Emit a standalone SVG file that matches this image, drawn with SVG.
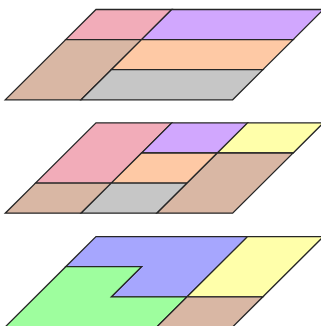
<svg xmlns="http://www.w3.org/2000/svg" width="321" height="326" viewBox="0 0 321 326">
<style>
polygon{stroke:#262626;stroke-width:1.3;stroke-linejoin:miter}
.pink{fill:#f2acb9}.purple{fill:#d1a7fe}.tan{fill:#d9b7a4}.orange{fill:#fec9a5}.gray{fill:#c6c6c6}.yellow{fill:#ffffaa}.blue{fill:#a6a6fe}.green{fill:#9efe9e}
</style>
<rect width="321" height="326" fill="#fff"/>
<g id="panel1">
<g id="p1-pink"><polygon class="pink" points="96,9.5 171.8,9.5 141.55,39.6 65.75,39.6"/></g>
<g id="p1-purple"><polygon class="purple" points="171.8,9.5 323.4,9.5 293.15,39.6 141.55,39.6"/></g>
<g id="p1-tan"><polygon class="tan" points="65.75,39.6 141.55,39.6 81.05,99.8 5.25,99.8"/></g>
<g id="p1-orange"><polygon class="orange" points="141.55,39.6 293.15,39.6 262.9,69.7 111.3,69.7"/></g>
<g id="p1-gray"><polygon class="gray" points="111.3,69.7 262.9,69.7 232.65,99.8 81.05,99.8"/></g>
</g>
<g id="panel2">
<g id="p2-pink"><polygon class="pink" points="96,122.9 171.8,122.9 111.3,183.1 35.5,183.1"/></g>
<g id="p2-purple"><polygon class="purple" points="171.8,122.9 247.6,122.9 217.35,153 141.55,153"/></g>
<g id="p2-yellow"><polygon class="yellow" points="247.6,122.9 323.4,122.9 293.15,153 217.35,153"/></g>
<g id="p2-orange"><polygon class="orange" points="141.55,153 217.35,153 187.1,183.1 111.3,183.1"/></g>
<g id="p2-tan-left"><polygon class="tan" points="35.5,183.1 111.3,183.1 81.05,213.2 5.25,213.2"/></g>
<g id="p2-gray"><polygon class="gray" points="111.3,183.1 187.1,183.1 156.85,213.2 81.05,213.2"/></g>
<g id="p2-tan-right"><polygon class="tan" points="217.35,153 293.15,153 232.65,213.2 156.85,213.2"/></g>
</g>
<g id="panel3">
<g id="p3-blue"><polygon class="blue" points="96,236.6 247.6,236.6 187.1,296.8 111.3,296.8 141.55,266.7 65.75,266.7"/></g>
<g id="p3-green"><polygon class="green" points="65.75,266.7 141.55,266.7 111.3,296.8 187.1,296.8 156.85,326.9 5.25,326.9"/></g>
<g id="p3-yellow"><polygon class="yellow" points="247.6,236.6 323.4,236.6 262.9,296.8 187.1,296.8"/></g>
<g id="p3-tan"><polygon class="tan" points="187.1,296.8 262.9,296.8 232.65,326.9 156.85,326.9"/></g>
</g>
<g id="connectors"/>
</svg>
